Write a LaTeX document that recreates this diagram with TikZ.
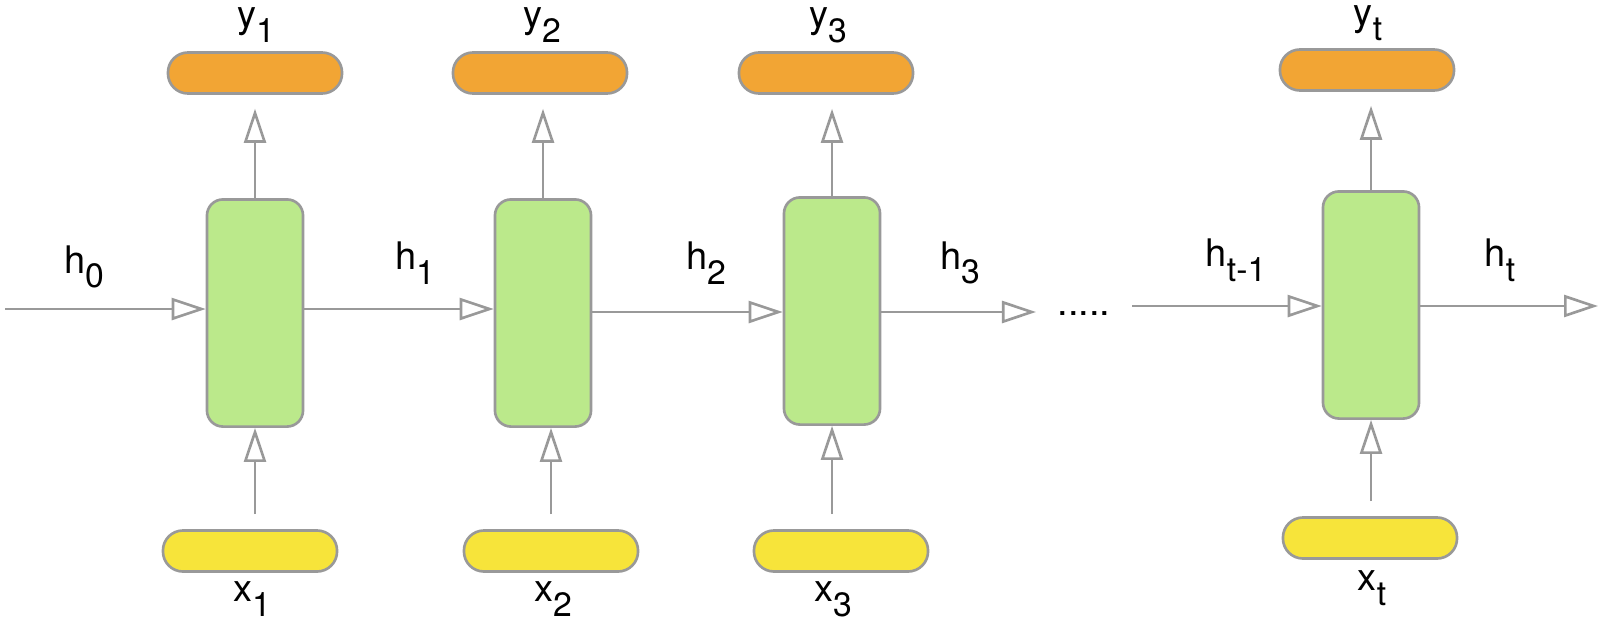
\documentclass[tikz,border=0pt]{standalone}
\usepackage{fontspec}
\setmainfont{TeX Gyre Heros}
\usetikzlibrary{arrows.meta}
\definecolor{cellgreen}{RGB}{187,233,139}
\definecolor{outorange}{RGB}{242,165,52}
\definecolor{inyellow}{RGB}{247,228,58}
\definecolor{edgegray}{RGB}{153,153,153}
\newcommand{\rnnsub}[1]{\raisebox{-4.2pt}{\fontsize{9.6}{10}\selectfont #1}}
\tikzset{
  cell/.style={draw=edgegray,line width=0.75pt,fill=cellgreen,rounded corners=0.16cm,
    minimum width=0.96cm,minimum height=2.27cm,inner sep=0pt},
  pill/.style={draw=edgegray,line width=0.75pt,rounded corners=0.2cm,
    minimum width=1.74cm,minimum height=0.41cm,inner sep=0pt},
  outpill/.style={pill,fill=outorange},
  inpill/.style={pill,fill=inyellow},
  lab/.style={font=\fontsize{10.8}{12}\selectfont,inner sep=0pt},
  link/.style={draw=edgegray,line width=0.75pt,
    -{Triangle[open,length=0.34cm,width=0.22cm,line width=0.75pt]}}
}
\begin{document}
\begin{tikzpicture}[x=0.01cm,y=-0.01cm]
                \useasboundingbox (0,0) rectangle (1600,627);
                \node[cell] (c1) at (255,313) {};
                \node[cell] (c2) at (543,313) {};
                \node[cell] (c3) at (832,311) {};
                \node[cell] (ct) at (1371,305) {};
                \node[outpill] (o1) at (255,73) {};
                \node[outpill] (o2) at (540,73) {};
                \node[outpill] (o3) at (826,73) {};
                \node[outpill] (ot) at (1367,70) {};
                \node[inpill] (i1) at (250,551) {};
                \node[inpill] (i2) at (551,551) {};
                \node[inpill] (i3) at (841,551) {};
                \node[inpill] (it) at (1370,538) {};
                \coordinate (h0in) at (5,309);
                \coordinate (h3out) at (1036,312);
                \coordinate (htin) at (1132,306);
                \coordinate (htout) at (1598,306);
                \draw[link] (h0in) -- (c1.west |- h0in);
                \draw[link] (c1.east |- h0in) -- (c2.west |- h0in);
                \draw[link] (c2.east |- h3out) -- (c3.west |- h3out);
                \draw[link] (c3.east |- h3out) -- (h3out);
                \draw[link] (htin) -- (ct.west |- htin);
                \draw[link] (ct.east |- htout) -- (htout);
                \draw[link,shorten >=0.14cm] (c1.north) -- (c1.north |- o1.south);
                \draw[link,shorten >=0.14cm] (c2.north) -- (c2.north |- o2.south);
                \draw[link,shorten >=0.14cm] (c3.north) -- (c3.north |- o3.south);
                \draw[link,shorten >=0.14cm] (ct.north) -- (ct.north |- ot.south);
                \draw[link,shorten <=0.15cm] (c1.south |- i1.north) -- (c1.south);
                \draw[link,shorten <=0.15cm] (i2.north) -- (i2.north |- c2.south);
                \draw[link,shorten <=0.15cm] (c3.south |- i3.north) -- (c3.south);
                \draw[link,shorten <=0.15cm] (ct.south |- it.north) -- (ct.south);
                \node[lab] (ly1) at (256,25) {y\rnnsub{1}};
                \node[lab] (ly2) at (542,25) {y\rnnsub{2}};
                \node[lab] (ly3) at (828,25) {y\rnnsub{3}};
                \node[lab] (lyt) at (1368,23) {y\rnnsub{t}};
                \node[lab] (lx1) at (252,599) {x\rnnsub{1}};
                \node[lab] (lx2) at (553,599) {x\rnnsub{2}};
                \node[lab] (lx3) at (833,599) {x\rnnsub{3}};
                \node[lab] (lxt) at (1372,588) {x\rnnsub{t}};
                \node[lab] (lh0) at (84,267) {h\rnnsub{0}};
                \node[lab] (lh1) at (415,263) {h\rnnsub{1}};
                \node[lab] (lh2) at (706,263) {h\rnnsub{2}};
                \node[lab] (lh3) at (960,263) {h\rnnsub{3}};
                \node[lab] (lht1) at (1236,260) {h\rnnsub{t-1}};
                \node[lab] (lht) at (1500,260) {h\rnnsub{t}};
                \node[lab] (dots) at (1084,314) {.....};
            \end{tikzpicture}
\end{document}
